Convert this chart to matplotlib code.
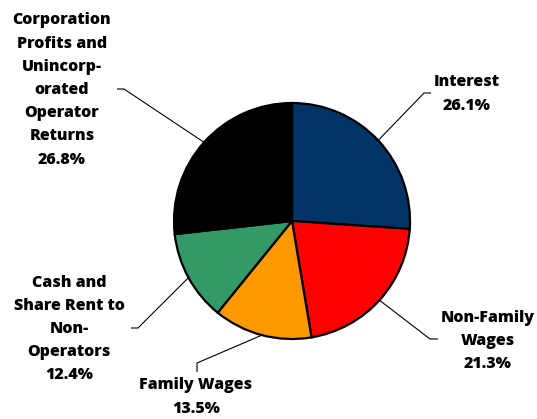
import numpy as np
import matplotlib
matplotlib.use('Agg')
import matplotlib.pyplot as plt

# Shares of the total, clockwise from 12 o'clock
labels = ['Interest', 'Non-Family\nWages', 'Family Wages',
          'Cash and\nShare Rent to\nNon-\nOperators',
          'Corporation\nProfits and\nUnincorp-\norated\nOperator\nReturns']
shares = [26.1, 21.3, 13.5, 12.4, 26.8]
colors = ['#003366', '#FF0000', '#FF9900', '#339966', '#000000']

W, H = 537, 419
fig = plt.figure(figsize=(W / 100, H / 100), dpi=100)
ax = fig.add_axes([0, 0, 1, 1])

cx, cy, r = 292, H - 221, 118
wedges, _ = ax.pie(shares, colors=colors, startangle=90, counterclock=False,
                   center=(cx, cy), radius=r, frame=True,
                   wedgeprops=dict(edgecolor='black', linewidth=1.6))
ax.set_xlim(0, W)
ax.set_ylim(0, H)
ax.set_aspect('equal')
ax.axis('off')

# label text centre, elbow point, end of the short tail (pixel coords, y down)
label_pos = [(467, 94), (488, 341), (196, 397), (69, 329), (62, 90)]
elbows = [(424, 93), (430, 339), (197, 363), (138, 328), (124, 89)]
tails = [(431, 93), (438, 339), (197, 372), (131, 328), (117, 89)]

for w, s, lab, lp, el, tl in zip(wedges, shares, labels, label_pos, elbows, tails):
    ang = np.deg2rad((w.theta1 + w.theta2) / 2)
    x0, y0 = cx + r * np.cos(ang), cy + r * np.sin(ang)
    ax.plot([x0, el[0], tl[0]], [y0, H - el[1], H - tl[1]],
            color='black', linewidth=0.8, solid_capstyle='butt')
    ax.text(lp[0], H - lp[1], f'{lab}\n{s:.1f}%', ha='center', va='center',
            fontsize=11.5, fontweight='heavy', family='Open Sans',
            linespacing=1.6)

fig.savefig('out.png', dpi=100)
